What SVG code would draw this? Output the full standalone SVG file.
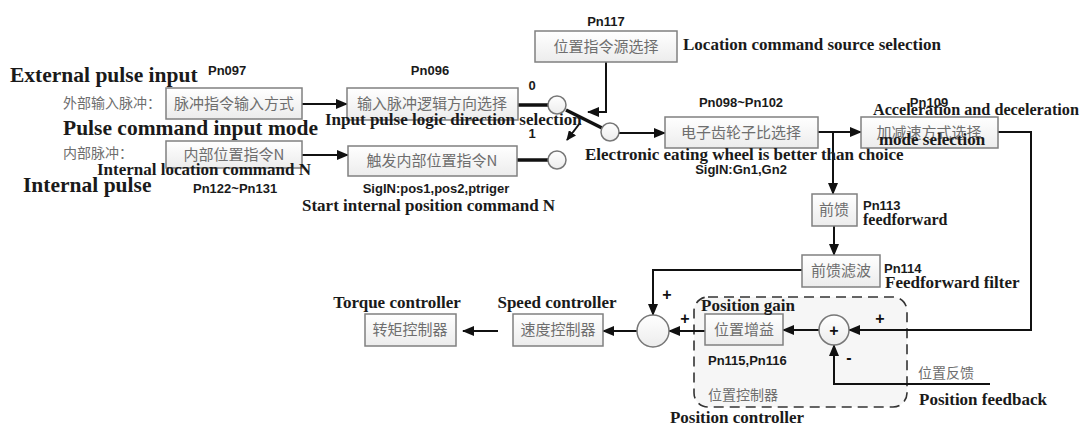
<svg xmlns="http://www.w3.org/2000/svg" width="1085" height="426" viewBox="0 0 1085 426">
<defs>
<marker id="ah" markerWidth="12" markerHeight="10" refX="11" refY="5" orient="auto" markerUnits="userSpaceOnUse">
<path d="M0,0 L12,5 L0,10 Z" fill="#111"/>
</marker>
<marker id="ahs" markerWidth="10" markerHeight="9" refX="9" refY="4.5" orient="auto" markerUnits="userSpaceOnUse">
<path d="M0,0 L10,4.5 L0,9 Z" fill="#111"/>
</marker>
<linearGradient id="bg" x1="0" y1="0" x2="0" y2="1">
<stop offset="0" stop-color="#ffffff"/>
<stop offset="1" stop-color="#ececec"/>
</linearGradient>
</defs>
<style>
.box{fill:url(#bg);stroke:#808080;stroke-width:1.5}
.cn{font-family:"Noto Sans CJK SC",sans-serif;font-size:15px;fill:#6e6e6e}
.cnb{font-family:"Noto Sans CJK SC",sans-serif;font-size:14px;fill:#6e6e6e}
.en{font-family:"Liberation Serif",serif;font-weight:bold;fill:#1a1a1a;font-size:17px}
.big{font-size:21.5px}
.pn{font-family:"Liberation Sans",sans-serif;font-weight:bold;font-size:13px;fill:#1a1a1a}
.ln{fill:none;stroke:#111;stroke-width:2}
.thk{fill:none;stroke:#111;stroke-width:3.5}
.cir{fill:url(#bg);stroke:#777;stroke-width:1.5}
.sg{font-family:"Liberation Sans",sans-serif;font-weight:bold;font-size:16px;fill:#111}
</style>
<rect width="1085" height="426" fill="#ffffff"/>

<g id="posctl">
<rect x="694" y="297" width="213" height="110" rx="14" fill="#f6f6f6" stroke="#333" stroke-width="1.6" stroke-dasharray="10,6"/>
<text class="cnb" x="708" y="400">位置控制器</text>
<text class="en" x="737" y="423" text-anchor="middle">Position controller</text>
</g>

<g id="connectors">
<path class="ln" d="M302,104 H347" marker-end="url(#ah)"/>
<path class="ln" d="M302,155 H348" marker-end="url(#ah)"/>
<path class="thk" d="M518,105 H548"/>
<path class="thk" d="M517,160 H548"/>
<path class="thk" d="M566,110 L602,128"/>
<path class="ln" d="M606,62 V112 H588" marker-end="url(#ah)"/>
<path class="ln" d="M580,123 L567,140" marker-end="url(#ahs)"/>
<path class="ln" d="M619,133 H665" marker-end="url(#ah)"/>
<path class="ln" d="M818,132 H861" marker-end="url(#ah)"/>
<path class="ln" d="M833,132 V194" marker-end="url(#ah)"/>
<path class="ln" d="M834,226 V255" marker-end="url(#ah)"/>
<path class="ln" d="M802,270 H653 V315" marker-end="url(#ah)"/>
<path class="ln" d="M998,132 H1031 V330 H849" marker-end="url(#ah)"/>
<path class="ln" d="M819,330 H783" marker-end="url(#ah)"/>
<path class="ln" d="M990,384 H834 V345" marker-end="url(#ah)"/>
<path class="ln" d="M705,331 H669" marker-end="url(#ah)"/>
<path class="ln" d="M637,331 H603" marker-end="url(#ah)"/>
<path class="ln" d="M498,331 H463" marker-end="url(#ah)"/>
</g>

<g id="ext-input">
<text class="en big" x="10" y="82">External pulse input</text>
<text class="pn" x="208" y="75">Pn097</text>
<text class="cnb" x="63" y="108">外部输入脉冲：</text>
<rect class="box" x="166" y="88" width="136" height="31"/>
<text class="cn" x="234" y="109" text-anchor="middle">脉冲指令输入方式</text>
<text class="en big" x="63" y="135">Pulse command input mode</text>
</g>

<g id="int-input">
<text class="cnb" x="63" y="158">内部脉冲：</text>
<rect class="box" x="166" y="141" width="136" height="27"/>
<text class="cn" x="234" y="160" text-anchor="middle">内部位置指令N</text>
<text class="en" x="97" y="175">Internal location command N</text>
<text class="en big" x="23" y="192">Internal pulse</text>
<text class="pn" x="193" y="193">Pn122~Pn131</text>
</g>

<g id="logic-dir">
<text class="pn" x="430" y="75" text-anchor="middle">Pn096</text>
<rect class="box" x="347" y="88" width="171" height="32"/>
<text class="cn" x="432" y="109" text-anchor="middle">输入脉冲逻辑方向选择</text>
<text class="en" x="325" y="125">Input pulse logic direction selection</text>
</g>

<g id="trigger">
<rect class="box" x="348" y="146" width="169" height="30"/>
<text class="cn" x="432" y="166" text-anchor="middle">触发内部位置指令N</text>
<text class="pn" x="436" y="193" text-anchor="middle">SigIN:pos1,pos2,ptriger</text>
<text class="en" x="302" y="211">Start internal position command N</text>
</g>

<g id="switch">
<text class="pn" x="532" y="90" text-anchor="middle">0</text>
<text class="pn" x="532" y="138" text-anchor="middle">1</text>
<circle class="cir" cx="557" cy="105" r="9"/>
<circle class="cir" cx="557" cy="160" r="9"/>
<circle class="cir" cx="610" cy="132" r="9"/>
</g>

<g id="source-sel">
<text class="pn" x="606" y="26" text-anchor="middle">Pn117</text>
<rect class="box" x="535" y="31" width="142" height="31"/>
<text class="cn" x="606" y="52" text-anchor="middle">位置指令源选择</text>
<text class="en" x="683" y="50">Location command source selection</text>
</g>

<g id="gear">
<text class="pn" x="741" y="107" text-anchor="middle">Pn098~Pn102</text>
<rect class="box" x="665" y="117" width="153" height="31"/>
<text class="cn" x="741" y="138" text-anchor="middle">电子齿轮子比选择</text>
<text class="en" x="585" y="160">Electronic eating wheel is better than choice</text>
<text class="pn" x="741" y="174" text-anchor="middle">SigIN:Gn1,Gn2</text>
</g>

<g id="accel">
<rect class="box" x="861" y="117" width="137" height="31"/>
<text class="cn" x="929" y="138" text-anchor="middle">加减速方式选择</text>
<text class="pn" x="929" y="107" text-anchor="middle">Pn109</text>
<text class="en" x="873" y="115" style="font-size:16.2px">Acceleration and deceleration</text>
<text class="en" x="932" y="145" text-anchor="middle">mode selection</text>
</g>

<g id="feedforward">
<rect class="box" x="812" y="194" width="45" height="32"/>
<text class="cn" x="834" y="215" text-anchor="middle">前馈</text>
<text class="pn" x="863" y="210">Pn113</text>
<text class="en" x="863" y="225" style="font-size:16px">feedforward</text>
</g>

<g id="ff-filter">
<rect class="box" x="802" y="255" width="78" height="32"/>
<text class="cn" x="841" y="276" text-anchor="middle">前馈滤波</text>
<text class="pn" x="884" y="273">Pn114</text>
<text class="en" x="885" y="288">Feedforward filter</text>
</g>

<g id="pos-gain">
<rect class="box" x="705" y="314" width="78" height="31"/>
<text class="cn" x="744" y="335" text-anchor="middle">位置增益</text>
<text class="en" x="701" y="311">Position gain</text>
<text class="pn" x="708" y="365">Pn115,Pn116</text>
</g>

<g id="sum2">
<circle class="cir" cx="834" cy="330" r="15"/>
<text class="sg" x="834" y="336" text-anchor="middle">+</text>
<text class="sg" x="880" y="324" text-anchor="middle">+</text>
<text class="sg" x="849" y="363" text-anchor="middle">-</text>
</g>

<g id="feedback">
<text class="cnb" x="918" y="378">位置反馈</text>
<text class="en" x="919" y="405">Position feedback</text>
</g>

<g id="sum1">
<circle class="cir" cx="653" cy="331" r="16"/>
<text class="sg" x="667" y="300" text-anchor="middle">+</text>
<text class="sg" x="685" y="324" text-anchor="middle">+</text>
</g>

<g id="speed">
<text class="en" x="557" y="308" text-anchor="middle">Speed controller</text>
<rect class="box" x="513" y="314" width="90" height="32"/>
<text class="cn" x="558" y="335" text-anchor="middle">速度控制器</text>
</g>

<g id="torque">
<text class="en" x="397" y="308" text-anchor="middle">Torque controller</text>
<rect class="box" x="365" y="314" width="91" height="32"/>
<text class="cn" x="410" y="335" text-anchor="middle">转矩控制器</text>
</g>
</svg>
